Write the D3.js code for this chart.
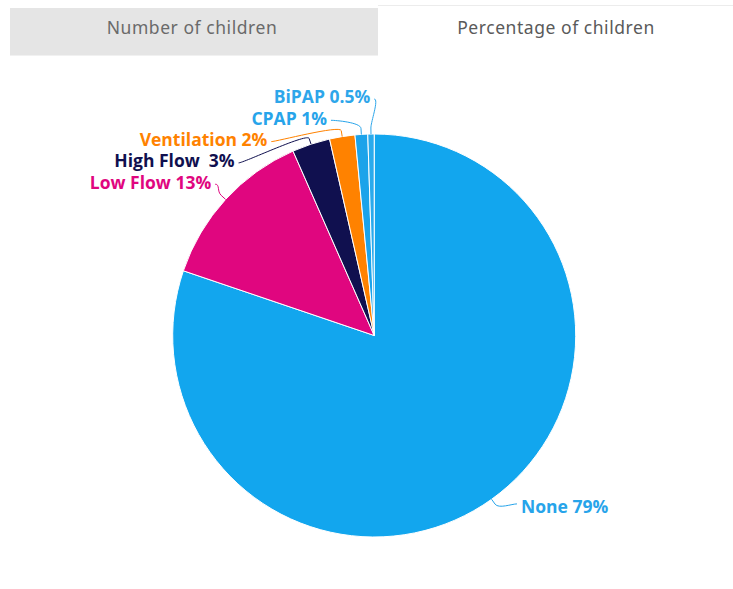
<!DOCTYPE html>
<html>
<head>
<meta charset="utf-8">
<script src="https://cdn.jsdelivr.net/npm/d3@7"></script>
<style>
  html, body { margin: 0; padding: 0; background: #fff; }
  svg { display: block; }
  .lbl { font-family: "Open Sans", sans-serif; font-weight: 700; font-size: 17.5px; white-space: pre; }
  .tab { font-family: "Noto Sans", sans-serif; font-size: 17.5px; letter-spacing: 0.55px; }
</style>
</head>
<body>
<svg id="chart" width="733" height="589"></svg>
<script>
// Respiratory support received by children (share of children, %)
const categories = ["None", "Low Flow", "High Flow", "Ventilation", "CPAP", "BiPAP"];
const percentages = [79, 13, 3, 2, 1, 0.5];
const labelNames = ["None", "Low Flow", "High Flow ", "Ventilation", "CPAP", "BiPAP"];
const sliceColors = ["#12A6EE", "#E0067F", "#10104F", "#FF8200", "#1CA3EA", "#2AAAEC"];
const labelColors = ["#27A4EA", "#E0067F", "#10104F", "#FF8200", "#27A4EA", "#2DA6EA"];
const tabLabels = ["Number of children", "Percentage of children"];

const W = 733, H = 589;
const svg = d3.select("#chart");

// ---- tab bar ----
svg.append("rect").attr("x", 378).attr("y", 5).attr("width", W - 378).attr("height", 51)
  .attr("fill", "#fff");
svg.append("line").attr("x1", 378).attr("x2", W).attr("y1", 5.5).attr("y2", 5.5)
  .attr("stroke", "#ececec");
svg.append("rect").attr("x", 10).attr("y", 8).attr("width", 368).attr("height", 47)
  .attr("fill", "#e5e5e5");
svg.append("line").attr("x1", 10).attr("x2", 378).attr("y1", 55.5).attr("y2", 55.5)
  .attr("stroke", "#f1f1f1");
svg.selectAll("text.tab").data(tabLabels).join("text")
  .attr("class", "tab")
  .attr("x", (d, i) => i === 0 ? 192 : 556)
  .attr("y", 34)
  .attr("text-anchor", "middle")
  .attr("fill", (d, i) => i === 0 ? "#6a6a6a" : "#5a5a5a")
  .text(d => d);

// ---- pie ----
const cx = 374.2, cy = 335.5, r = 201.5;
const g = svg.append("g");

const pie = d3.pie().sort(null).value(d => d).startAngle(0).endAngle(2 * Math.PI);
const arcs = pie(percentages);
const arc = d3.arc().innerRadius(0).outerRadius(r);

g.selectAll("path.slice").data(arcs).join("path")
  .attr("class", "slice")
  .attr("transform", `translate(${cx},${cy})`)
  .attr("d", arc)
  .attr("fill", (d, i) => sliceColors[i])
  .attr("stroke", "#fff")
  .attr("stroke-width", 1);

// polar helper: angle measured clockwise from 12 o'clock
const polar = (a, rad) => [cx + rad * Math.sin(a), cy - rad * Math.cos(a)];

// ---- data labels with connectors ----
const labelR = r + 18;       // radius the label anchors follow
const breakOff = 6;          // connector break outside the rim
const padding = 4;           // gap between connector and text
const rowH = 21.3;           // vertical spacing of stacked labels
const topBound = cy - r - 35;

const items = arcs.map((d, i) => {
  const mid = (d.startAngle + d.endAngle) / 2;
  const left = mid > Math.PI;
  const natY = polar(mid, labelR)[1];
  return { i, mid, left, natY };
});

// left-side labels: packed downward from the top bound, ordered by angle from the top
const leftItems = items.filter(d => d.left).sort((a, b) => b.mid - a.mid);
leftItems.forEach((d, k) => {
  d.connY = Math.max(topBound + k * rowH, k === 0 ? topBound : leftItems[k - 1].connY + rowH);
  d.textY = d.connY - 2;
});
// right-side labels stay near their natural position
items.filter(d => !d.left).forEach(d => {
  d.connY = d.natY - 10;
  d.textY = d.connY + 3;
});

items.forEach(d => {
  const dy = d.connY - cy;
  const dx = Math.sqrt(Math.max(0, labelR * labelR - dy * dy));
  d.connX = d.left ? cx - dx : cx + dx + 2;
  d.textX = d.left ? d.connX - padding : d.connX + padding;
  const touch = polar(d.mid, r);
  const brk = polar(d.mid, r + breakOff);
  const c1 = [d.connX + (d.left ? 5 : -5), d.connY];
  const c2 = [2 * brk[0] - touch[0], 2 * brk[1] - touch[1]];
  d.path = `M${d.connX},${d.connY}C${c1[0]},${c1[1]} ${c2[0]},${c2[1]} ${brk[0]},${brk[1]}L${touch[0]},${touch[1]}`;
});

g.selectAll("path.conn").data(items).join("path")
  .attr("class", "conn")
  .attr("d", d => d.path)
  .attr("fill", "none")
  .attr("stroke", d => labelColors[d.i])
  .attr("stroke-width", 1);

g.selectAll("text.lbl").data(items).join("text")
  .attr("class", "lbl")
  .attr("x", d => d.textX)
  .attr("y", d => d.textY)
  .attr("dy", "0.36em")
  .attr("text-anchor", d => d.left ? "end" : "start")
  .attr("fill", d => labelColors[d.i])
  .text(d => `${labelNames[d.i]} ${percentages[d.i]}%`);
</script>
</body>
</html>
